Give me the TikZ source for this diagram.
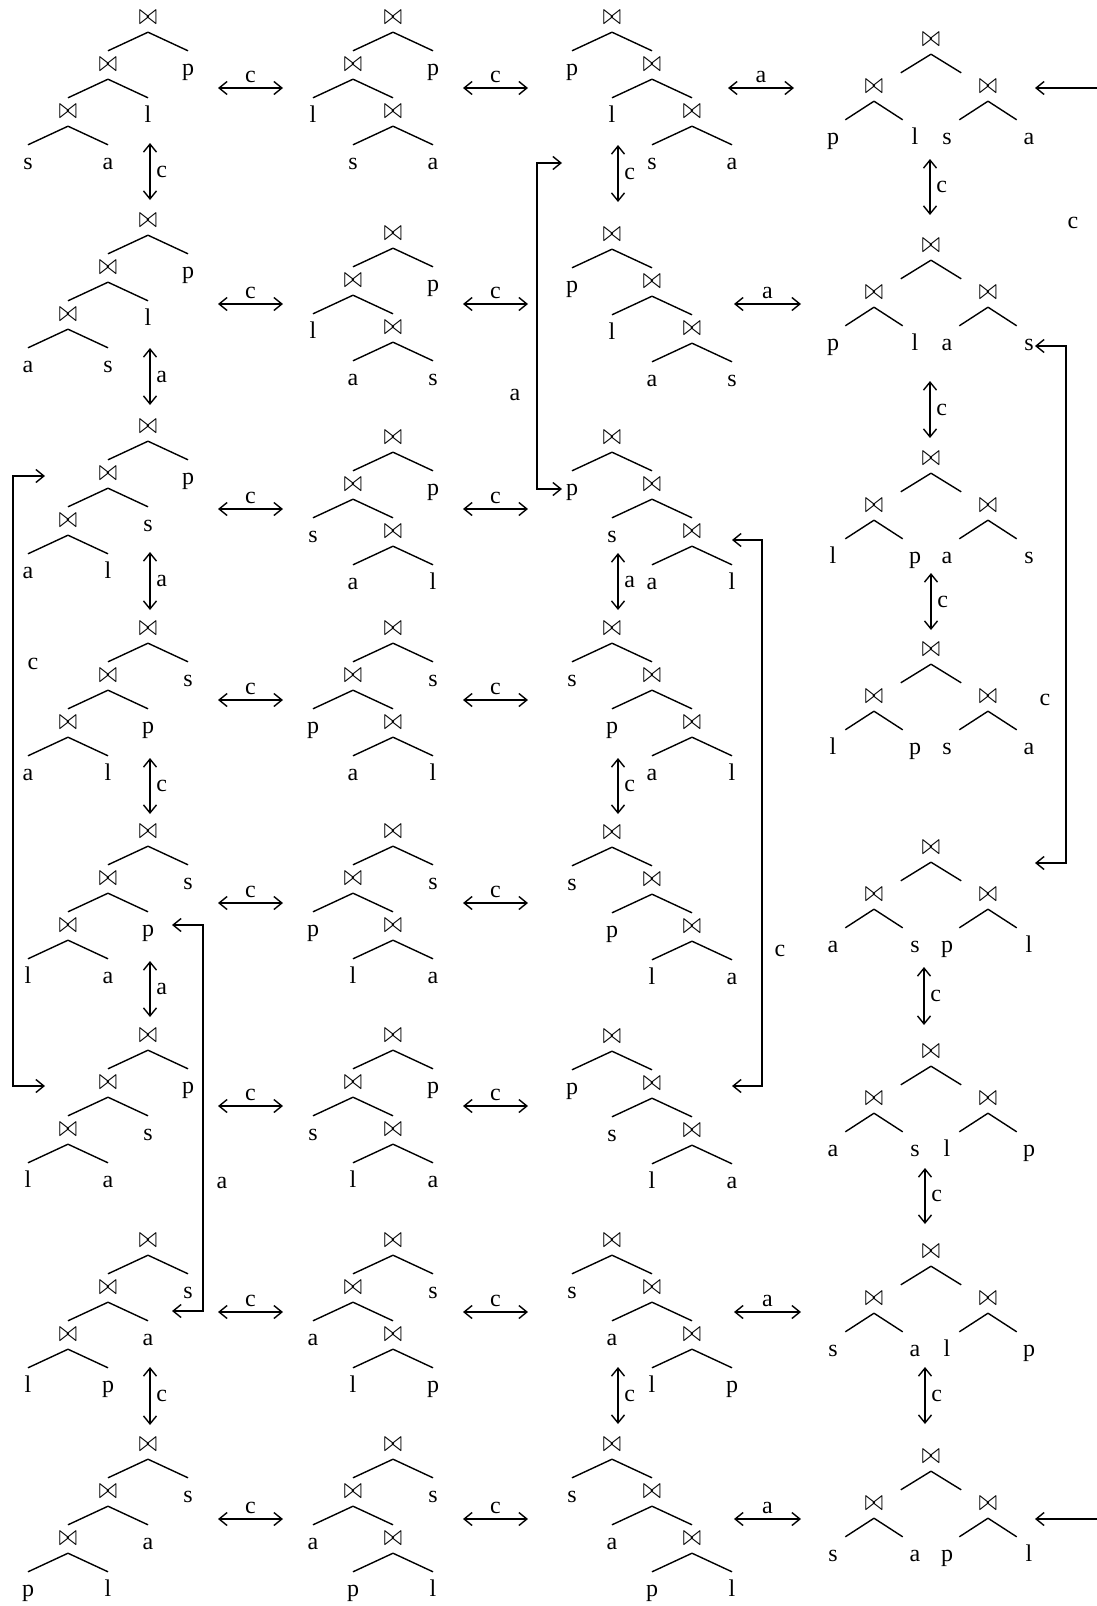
\documentclass[tikz,border=0pt]{standalone}
\usepackage{fontspec}
\setmainfont{Liberation Serif}
\usepackage{graphicx}
\usepackage{tikz}
\usetikzlibrary{calc,arrows.meta,positioning}

\newcommand{\jn}{\scalebox{1}[1.35]{\fontsize{10.5}{12}\selectfont$\bowtie$}}

% ((#3 #4) #5) #6
\newcommand{\ldeep}[6]{%
  \node[jn] (#1) at (#2) {\jn}
    child {node[jn] {\jn}
      child {node[jn] {\jn}
        child {node[lf] {#3}}
        child {node[lf] {#4}}}
      child {node[lf] {#5}}}
    child {node[lf] {#6}};}
% (#3 (#4 #5)) #6
\newcommand{\mdeep}[6]{%
  \node[jn] (#1) at (#2) {\jn}
    child {node[jn] {\jn}
      child {node[lf] {#3}}
      child {node[jn] {\jn}
        child {node[lf] {#4}}
        child {node[lf] {#5}}}}
    child {node[lf] {#6}};}
% #3 (#4 (#5 #6))
\newcommand{\rdeep}[6]{%
  \node[jn] (#1) at (#2) {\jn}
    child {node[lf] {#3}}
    child {node[jn] {\jn}
      child {node[lf] {#4}}
      child {node[jn] {\jn}
        child {node[lf] {#5}}
        child {node[lf] {#6}}}};}
% (#3 #4) (#5 #6)
\newcommand{\bushy}[6]{%
  \node[jn] (#1) at (#2) {\jn}
    child {node[jn] {\jn}
      child {node[lf] {#3}}
      child {node[lf] {#4}}}
    child {node[jn] {\jn}
      child {node[lf] {#5}}
      child {node[lf] {#6}}};}

\begin{document}
\begin{tikzpicture}[x=0.5pt,y=-0.5pt, line width=0.7pt,
    font=\fontsize{12}{14}\selectfont,
    jn/.style={inner sep=0pt, minimum height=13.5pt, text height=7.5pt, text depth=1.3pt},
    lf/.style={inner sep=0pt, minimum height=13.5pt, text height=11.5pt, text depth=1pt},
    level distance=23.5pt, sibling distance=40pt,
    edge from parent path={(\tikzparentnode.south) -- (\tikzchildnode.north)},
    bushtree/.style={
      level 1/.style={sibling distance=57pt,
        edge from parent path={(\tikzparentnode.south) --
          ($(\tikzchildnode.north)!0.47!(\tikzparentnode.south |- \tikzchildnode.north)$)}},
      level 2/.style={sibling distance=41pt,
        edge from parent path={(\tikzparentnode.south) --
          ($(\tikzchildnode.north)!0.3!(\tikzparentnode.south |- \tikzchildnode.north)$)}}},
    dbl/.style={{Straight Barb[length=4pt,width=6.5pt]}-{Straight Barb[length=4pt,width=6.5pt]}},
    one/.style={-{Straight Barb[length=4pt,width=6.5pt]}},
    hlab/.style={above, inner sep=2.5pt},
    vlab/.style={right, inner sep=2.8pt}]
  \useasboundingbox (0,0) rectangle (1097,1606);

  % left-deep trees
  \ldeep{t11}{148,18}{s}{a}{l}{p}
  \ldeep{t21}{148,221}{a}{s}{l}{p}
  \ldeep{t31}{148,427}{a}{l}{s}{p}
  \ldeep{t41}{148,629}{a}{l}{p}{s}
  \ldeep{t51}{148,832}{l}{a}{p}{s}
  \ldeep{t61}{148,1036}{l}{a}{s}{p}
  \ldeep{t71}{148,1241}{l}{p}{a}{s}
  \ldeep{t81}{148,1445}{p}{l}{a}{s}

  % second column
  \mdeep{t12}{393,18}{l}{s}{a}{p}
  \mdeep{t22}{393,234}{l}{a}{s}{p}
  \mdeep{t32}{393,438}{s}{a}{l}{p}
  \mdeep{t42}{393,629}{p}{a}{l}{s}
  \mdeep{t52}{393,832}{p}{l}{a}{s}
  \mdeep{t62}{393,1036}{s}{l}{a}{p}
  \mdeep{t72}{393,1241}{a}{l}{p}{s}
  \mdeep{t82}{393,1445}{a}{p}{l}{s}

  % right-deep trees
  \rdeep{t13}{612,18}{p}{l}{s}{a}
  \rdeep{t23}{612,235}{p}{l}{a}{s}
  \rdeep{t33}{612,438}{p}{s}{a}{l}
  \rdeep{t43}{612,629}{s}{p}{a}{l}
  \rdeep{t53}{612,833}{s}{p}{l}{a}
  \rdeep{t63}{612,1037}{p}{s}{l}{a}
  \rdeep{t73}{612,1241}{s}{a}{l}{p}
  \rdeep{t83}{612,1445}{s}{a}{p}{l}

  % bushy trees
  \begin{scope}[bushtree]
    \bushy{t14}{931,40}{p}{l}{s}{a}
    \bushy{t24}{931,246}{p}{l}{a}{s}
    \bushy{t34}{931,459}{l}{p}{a}{s}
    \bushy{t44}{931,650}{l}{p}{s}{a}
    \bushy{t54}{931,848}{a}{s}{p}{l}
    \bushy{t64}{931,1052}{a}{s}{l}{p}
    \bushy{t74}{931,1252}{s}{a}{l}{p}
    \bushy{t84}{931,1457}{s}{a}{p}{l}
  \end{scope}

  % row moves
  \coordinate (h11) at (218,88);   \coordinate (h12) at (283,88);   \draw[dbl] (h11) -- node[hlab] {c} (h12);
  \coordinate (h13) at (463,88);   \coordinate (h14) at (528,88);   \draw[dbl] (h13) -- node[hlab] {c} (h14);
  \coordinate (h15) at (728,88);   \coordinate (h16) at (794,88);   \draw[dbl] (h15) -- node[hlab] {a} (h16);
  \coordinate (h21) at (218,304);  \coordinate (h22) at (283,304);  \draw[dbl] (h21) -- node[hlab] {c} (h22);
  \coordinate (h23) at (463,304);  \coordinate (h24) at (528,304);  \draw[dbl] (h23) -- node[hlab] {c} (h24);
  \coordinate (h25) at (734,304);  \coordinate (h26) at (801,304);  \draw[dbl] (h25) -- node[hlab] {a} (h26);
  \coordinate (h31) at (218,509);  \coordinate (h32) at (283,509);  \draw[dbl] (h31) -- node[hlab] {c} (h32);
  \coordinate (h33) at (463,509);  \coordinate (h34) at (528,509);  \draw[dbl] (h33) -- node[hlab] {c} (h34);
  \coordinate (h41) at (218,700);  \coordinate (h42) at (283,700);  \draw[dbl] (h41) -- node[hlab] {c} (h42);
  \coordinate (h43) at (463,700);  \coordinate (h44) at (528,700);  \draw[dbl] (h43) -- node[hlab] {c} (h44);
  \coordinate (h51) at (218,903);  \coordinate (h52) at (283,903);  \draw[dbl] (h51) -- node[hlab] {c} (h52);
  \coordinate (h53) at (463,903);  \coordinate (h54) at (528,903);  \draw[dbl] (h53) -- node[hlab] {c} (h54);
  \coordinate (h61) at (218,1106); \coordinate (h62) at (283,1106); \draw[dbl] (h61) -- node[hlab] {c} (h62);
  \coordinate (h63) at (463,1106); \coordinate (h64) at (528,1106); \draw[dbl] (h63) -- node[hlab] {c} (h64);
  \coordinate (h71) at (218,1312); \coordinate (h72) at (283,1312); \draw[dbl] (h71) -- node[hlab] {c} (h72);
  \coordinate (h73) at (463,1312); \coordinate (h74) at (528,1312); \draw[dbl] (h73) -- node[hlab] {c} (h74);
  \coordinate (h75) at (734,1312); \coordinate (h76) at (801,1312); \draw[dbl] (h75) -- node[hlab] {a} (h76);
  \coordinate (h81) at (218,1519); \coordinate (h82) at (283,1519); \draw[dbl] (h81) -- node[hlab] {c} (h82);
  \coordinate (h83) at (463,1519); \coordinate (h84) at (528,1519); \draw[dbl] (h83) -- node[hlab] {c} (h84);
  \coordinate (h85) at (734,1519); \coordinate (h86) at (801,1519); \draw[dbl] (h85) -- node[hlab] {a} (h86);

  % column moves
  \coordinate (v11) at (150,143);  \coordinate (v12) at (150,200);  \draw[dbl] (v11) -- node[vlab] {c} (v12);
  \coordinate (v21) at (150,348);  \coordinate (v22) at (150,405);  \draw[dbl] (v21) -- node[vlab] {a} (v22);
  \coordinate (v31) at (150,552);  \coordinate (v32) at (150,610);  \draw[dbl] (v31) -- node[vlab] {a} (v32);
  \coordinate (v41) at (150,758);  \coordinate (v42) at (150,814);  \draw[dbl] (v41) -- node[vlab] {c} (v42);
  \coordinate (v51) at (150,961);  \coordinate (v52) at (150,1017); \draw[dbl] (v51) -- node[vlab] {a} (v52);
  \coordinate (v71) at (150,1367); \coordinate (v72) at (150,1425); \draw[dbl] (v71) -- node[vlab] {c} (v72);
  \coordinate (w11) at (618,145);  \coordinate (w12) at (618,202);  \draw[dbl] (w11) -- node[vlab] {c} (w12);
  \coordinate (w31) at (618,553);  \coordinate (w32) at (618,610);  \draw[dbl] (w31) -- node[vlab] {a} (w32);
  \coordinate (w41) at (618,758);  \coordinate (w42) at (618,814);  \draw[dbl] (w41) -- node[vlab] {c} (w42);
  \coordinate (w71) at (618,1367); \coordinate (w72) at (618,1424); \draw[dbl] (w71) -- node[vlab] {c} (w72);
  \coordinate (u11) at (930,159);  \coordinate (u12) at (930,215);  \draw[dbl] (u11) -- node[vlab] {c} (u12);
  \coordinate (u21) at (930,381);  \coordinate (u22) at (930,438);  \draw[dbl] (u21) -- node[vlab] {c} (u22);
  \coordinate (u31) at (931,573);  \coordinate (u32) at (931,630);  \draw[dbl] (u31) -- node[vlab] {c} (u32);
  \coordinate (u51) at (924,967);  \coordinate (u52) at (924,1025); \draw[dbl] (u51) -- node[vlab] {c} (u52);
  \coordinate (u61) at (925,1168); \coordinate (u62) at (925,1224); \draw[dbl] (u61) -- node[vlab] {c} (u62);
  \coordinate (u71) at (925,1367); \coordinate (u72) at (925,1424); \draw[dbl] (u71) -- node[vlab] {c} (u72);

  % long brackets
  \coordinate (b1a) at (45,476);   \coordinate (b1b) at (45,1086);
  \draw[dbl] (b1a) -- ++(-32,0) |- (b1b);
  \node (lb1) at (33,664) {c};
  \coordinate (b2a) at (172,925);  \coordinate (b2b) at (172,1311);
  \draw[dbl] (b2a) -- ++(31,0) |- (b2b);
  \node (lb2) at (222,1183) {a};
  \coordinate (b3a) at (562,163);  \coordinate (b3b) at (562,489);
  \draw[dbl] (b3a) -- ++(-25,0) |- (b3b);
  \node (lb3) at (515,395) {a};
  \coordinate (b4a) at (732,540);  \coordinate (b4b) at (732,1086);
  \draw[dbl] (b4a) -- ++(30,0) |- (b4b);
  \node (lb4) at (780,951) {c};
  \coordinate (b5a) at (1035,346); \coordinate (b5b) at (1035,863);
  \draw[dbl] (b5a) -- ++(31,0) |- (b5b);
  \node (lb5) at (1045,700) {c};

  % bracket leaving the page on the right
  \coordinate (b6a) at (1035,88);  \coordinate (b6r) at (1097,88);
  \coordinate (b6b) at (1035,1519); \coordinate (b6s) at (1097,1519);
  \draw[one] (b6r) -- (b6a);
  \draw[one] (b6s) -- (b6b);
  \node (lb6) at (1073,223) {c};
\end{tikzpicture}
\end{document}
